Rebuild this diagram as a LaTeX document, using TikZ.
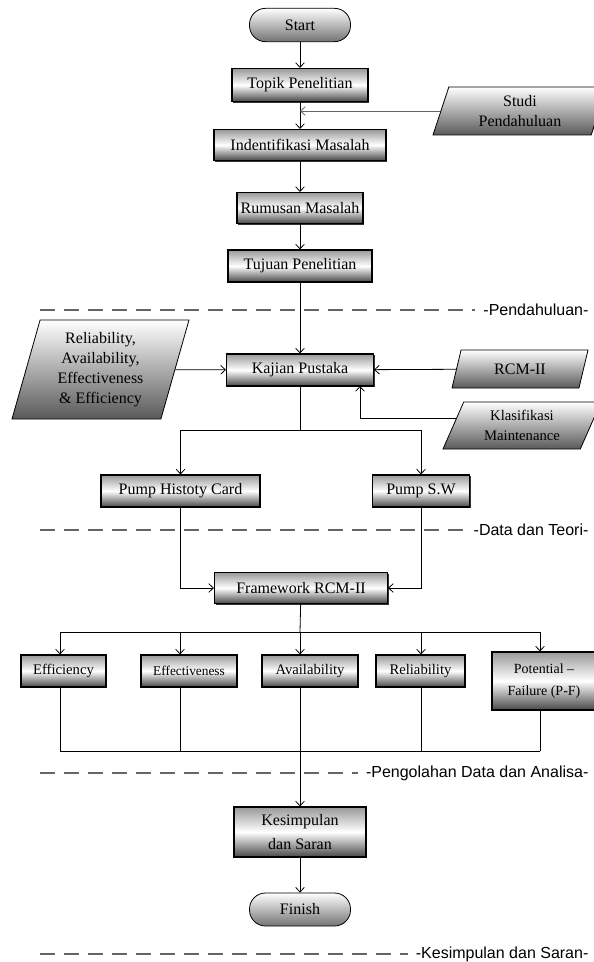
\documentclass[tikz,border=0pt]{standalone}
\usepackage{fontspec}
\setmainfont{Liberation Serif}
\newfontfamily\fasefont{Liberation Sans}
\usetikzlibrary{arrows.meta,shapes.geometric,shadows}

\begin{document}
\begin{tikzpicture}[x=0.75pt, y=-0.75pt,
    proses/.style={rectangle, draw=black, thick, top color=black!40, bottom color=black!72, middle color=white,
        general shadow={shadow xshift=0.8pt, shadow yshift=-0.8pt, fill=black!80},
        inner sep=1pt, align=center, font=\fontsize{12}{15}\selectfont},
    terminal/.style={rectangle, rounded corners=12pt, draw=black, semithick, top color=white, bottom color=black!55,
        minimum width=75.75pt, minimum height=25pt, font=\fontsize{12}{15}\selectfont},
    masukan/.style={trapezium, trapezium stretches body=true, draw=black, semithick, top color=white, bottom color=black!65,
        inner sep=1pt, align=center, font=\fontsize{12}{15}\selectfont},
    panah/.style={draw=black, line width=0.6pt, -{Straight Barb[length=3.5pt, width=6.5pt]}},
    garis/.style={draw=black, line width=0.6pt},
    batas/.style={draw=black!60, line width=0.9pt, dash pattern=on 11pt off 7pt},
    fase/.style={font=\fasefont\fontsize{12}{14}\selectfont, inner sep=1pt, anchor=east}]
    \useasboundingbox (0,0) rectangle (593,962);
    % Pendahuluan
    \node[terminal] (start) at (300,25) {Start};
    \node[proses, minimum width=102pt, minimum height=24.75pt] (topik) at (300,85) {Topik Penelitian};
    \node[masukan, trapezium left angle=65, trapezium right angle=115, minimum width=130.5pt, minimum height=36pt] (studi) at (520,111) {Studi\\Pendahuluan};
    \node[proses, minimum width=129pt, minimum height=23.25pt] (identif) at (300,145) {Indentifikasi Masalah};
    \node[proses, minimum width=94.5pt, minimum height=23.25pt] (rumusan) at (300,208) {Rumusan Masalah};
    \node[proses, minimum width=108pt, minimum height=24pt] (tujuan) at (300,266) {Tujuan Penelitian};
    % Data dan teori
    \node[proses, minimum width=110.25pt, minimum height=24pt] (kajian) at (300,370) {Kajian Pustaka};
    \node[masukan, trapezium left angle=70, trapezium right angle=110, minimum width=132.75pt, minimum height=74.25pt] (kriteria) at (100.5,369.5) {Reliability,\\Availability,\\Effectiveness\\\& Efficiency};
    \node[masukan, trapezium left angle=56, trapezium right angle=124, minimum width=102pt, minimum height=28.5pt] (rcm) at (520,369) {RCM-II};
    \node[masukan, trapezium left angle=58, trapezium right angle=122, minimum width=118.5pt, minimum height=35.25pt,
        font=\fontsize{11}{15}\selectfont] (klas) at (522,425.5) {Klasifikasi\\Maintenance};
    \node[proses, minimum width=119.25pt, minimum height=24pt] (kartu) at (180.5,491) {Pump Histoty Card};
    \node[proses, minimum width=72.75pt, minimum height=24pt] (sw) at (421,491) {Pump S.W};
    % Pengolahan data
    \node[proses, minimum width=129.75pt, minimum height=23.25pt] (kerangka) at (301,588) {Framework RCM-II};
    \node[proses, minimum width=63.75pt, minimum height=24pt, font=\fontsize{11}{14}\selectfont] (efi) at (63.5,671) {Efficiency};
    \node[proses, minimum width=72pt, minimum height=24pt, font=\fontsize{10}{13}\selectfont] (efe) at (189,671) {Effectiveness};
    \node[proses, minimum width=72pt, minimum height=24pt, font=\fontsize{11}{14}\selectfont] (ava) at (310,671) {Availability};
    \node[proses, minimum width=66.75pt, minimum height=24pt, font=\fontsize{11}{14}\selectfont] (rel) at (420.5,671) {Reliability};
    \node[proses, minimum width=78pt, minimum height=43.5pt, font=\fontsize{10.5}{17}\selectfont] (pf) at (544,681) {Potential –\\Failure (P-F)};
    % Kesimpulan
    \node[proses, minimum width=99pt, minimum height=37.5pt, font=\fontsize{12}{17.5}\selectfont] (simpul) at (300,832) {Kesimpulan\\dan Saran};
    \node[terminal, minimum height=24.75pt] (finish) at (300,909.5) {Finish};

    % Alur utama
    \draw[panah] (start) -- (topik);
    \draw[panah] (topik) -- (identif);
    \draw[panah, draw=black!60] (studi.west) -- (studi.west -| topik);
    \draw[panah] (identif) -- (rumusan);
    \draw[panah] (rumusan) -- (tujuan);
    \draw[panah] (tujuan) -- (kajian);
    \draw[panah] (kriteria) -- (kajian);
    \draw[panah] (rcm) -- (kajian);
    \coordinate (masuk) at (360,386);
    \draw[panah] ([xshift=3pt, yshift=5pt]klas.west) -| (masuk);
    \coordinate (bagi) at (300,430);
    \draw[garis] (kajian) -- (bagi);
    \draw[panah] (bagi) -| (kartu);
    \draw[panah] (bagi) -| (sw);
    \draw[panah] (kartu) |- (kerangka);
    \draw[panah] (sw) |- (kerangka);
    % Cabang ke lima kotak
    \coordinate (sebar) at (300,632);
    \draw[garis] (kerangka) -- (sebar);
    \draw[garis] (60,632) -- (540,632);
    \foreach \n/\x in {efi/60, efe/180, ava/300, rel/421, pf/540} {
        \draw[panah] (\x,632) -- (\x,632 |- \n.north);
        \draw[garis] (\x,751 |- \n.south) -- (\x,751);
    }
    \draw[garis] (60,751) -- (540,751);
    \draw[panah] (300,751) -- (simpul);
    \draw[panah] (simpul) -- (finish);

    % Batas tahapan
    \node[fase] (fase1) at (590,310) {-Pendahuluan-};
    \node[fase] (fase2) at (590,530) {-Data dan Teori-};
    \node[fase] (fase3) at (590,773) {-Pengolahan Data dan Analisa-};
    \node[fase] (fase4) at (590,954) {-Kesimpulan dan Saran-};
    \foreach \f in {1,...,4} {
        \coordinate (awal\f) at (40,0 |- fase\f.west);
        \draw[batas] (awal\f) -- ([xshift=-5pt]fase\f.west);
    }
\end{tikzpicture}
\end{document}
